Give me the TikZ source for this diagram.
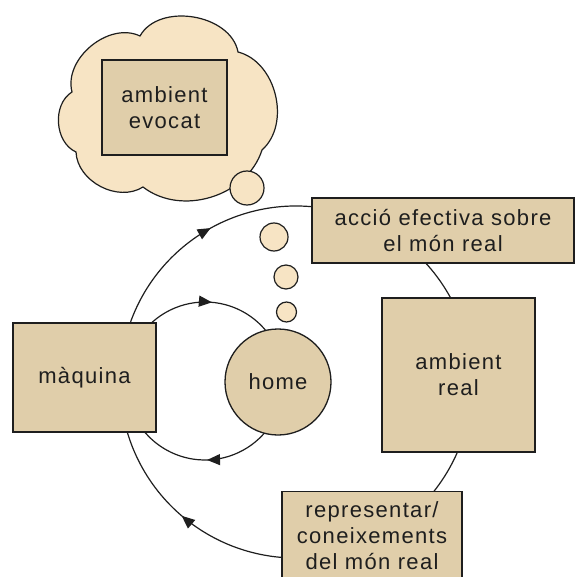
\documentclass[tikz,border=0pt]{standalone}
\usepackage{fontspec}
\newfontfamily\lab[LetterSpace=6]{Liberation Sans}
\usetikzlibrary{arrows.meta,decorations.markings}
\definecolor{boxfill}{RGB}{224,206,170}
\definecolor{cloudfill}{RGB}{247,228,196}
\definecolor{ink}{RGB}{30,30,30}
\begin{document}
\begin{tikzpicture}[x=1pt,y=1pt,
 box/.style={draw=ink,fill=boxfill,line width=1.3pt,align=center,inner sep=0pt,
   font=\lab\fontsize{22}{26}\selectfont,text=ink},
 bubble/.style={circle,draw=ink,fill=cloudfill,line width=1.2pt,inner sep=0pt},
 conn/.style={draw=ink,line width=1.2pt},
 flow/.style={conn,postaction={decorate},decoration={markings,
   mark=at position 0.5 with {\arrow{Triangle[length=13pt,width=11pt]}}}}
]
\useasboundingbox (0,0) rectangle (575,-577);
% circle centres
\coordinate (oc) at (296,-382);
\coordinate (ic) at (205,-381);
% outer loop
\draw[flow] ([shift={(160:176)}]oc) arc[start angle=160,end angle=78,radius=176];
\draw[conn] ([shift={(48:176)}]oc) arc[start angle=48,end angle=22,radius=176];
\draw[conn] ([shift={(-20:176)}]oc) arc[start angle=-20,end angle=-45,radius=176];
\draw[flow] ([shift={(-93:176)}]oc) arc[start angle=-93,end angle=-168,radius=176];
% inner loop
\draw[flow] ([shift={(135:79)}]ic) arc[start angle=135,end angle=35,radius=79];
\draw[flow] ([shift={(-35:79)}]ic) arc[start angle=-35,end angle=-142,radius=79];
% cloud
\path[draw=ink,fill=cloudfill,line width=1.2pt]
  (72,-92) to[bend left=65] (140,-36) to[bend left=70] (238,-52)
  to[bend left=62] (262,-150) to[bend left=55] (143,-187)
  to[bend left=60] (76,-152) to[bend left=62] (72,-92) -- cycle;
\node[box,minimum width=125,minimum height=95] (evocat) at (164.5,-107.5) {ambient\\evocat};
% thought bubbles
\node[bubble,minimum size=34] (b1) at (247,-188) {};
\node[bubble,minimum size=28] (b2) at (274,-237) {};
\node[bubble,minimum size=24] (b3) at (286,-277) {};
\node[bubble,minimum size=20] (b4) at (286.5,-312) {};
% boxes
\node[box,minimum width=143,minimum height=109] (maq) at (84.5,-377.5) {màquina};
\node[box,minimum width=262,minimum height=65] (accio) at (443,-230.5) {acció efectiva sobre\\el món real};
\node[box,minimum width=153,minimum height=154] (real) at (458.5,-375) {ambient\\real};
\node[box,minimum width=180,minimum height=88,anchor=north] (rep) at (372,-491) {representar/\\coneixements\\del món real};
\node[box,circle,minimum size=106] (home) at (278,-382) {home};
\end{tikzpicture}
\end{document}
